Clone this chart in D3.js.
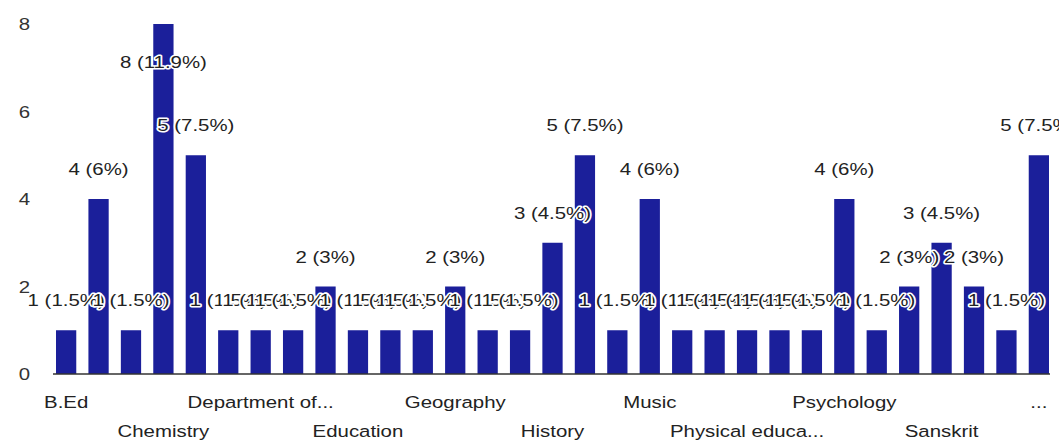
<!DOCTYPE html>
<html><head><meta charset="utf-8">
<script src="https://cdn.jsdelivr.net/npm/d3@7"></script>
<style>
html,body{margin:0;padding:0;background:#fff;}
svg{display:block;font-family:"Liberation Sans",Arial,sans-serif;}
</style></head>
<body>
<svg id="chart" width="1059" height="446"></svg>
<script>
// ---- data ----
const values = [1,4,1,8,5,1,1,1,2,1,1,1,2,1,1,3,5,1,4,1,1,1,1,1,4,1,2,3,2,1,5];
const total = 67;
const tickIndex = [0,3,6,9,12,15,18,21,24,27,30];
const tickLabels = ["B.Ed","Chemistry","Department of...","Education","Geography","History","Music","Physical educa...","Psychology","Sanskrit","..."];
const yTicks = [0,2,4,6,8];

const svg = d3.select("#chart");
const sx = 1.2;

const x = d3.scaleBand().domain(d3.range(values.length)).range([56,1049]).paddingInner(0.375).paddingOuter(0);
const y = d3.scaleLinear().domain([0,8]).range([374,24]);

// y tick labels
svg.append("g").selectAll("text").data(yTicks).join("text")
  .attr("transform", d => `translate(30,${y(d)+6}) scale(${sx},1)`)
  .attr("text-anchor","end").attr("font-size",17).attr("fill","#333").text(d=>d);

// bars
svg.append("g").selectAll("rect").data(values).join("rect")
  .attr("x",(d,i)=>x(i)).attr("width",x.bandwidth())
  .attr("y",d=>y(d)).attr("height",d=>y(0)-y(d))
  .attr("fill","#1b1f9a");

// baseline
svg.append("line").attr("x1",53).attr("x2",1050).attr("y1",y(0)).attr("y2",y(0))
  .attr("stroke","#333").attr("stroke-width",1.5);

// x axis labels
const xa = svg.append("g").attr("transform",`translate(0,${y(0)})`)
  .call(d3.axisBottom(x).tickValues(tickIndex).tickSize(0).tickFormat((d,i)=>tickLabels[i]));
xa.select(".domain").remove();
xa.selectAll("text")
  .attr("font-family","Liberation Sans, Arial, sans-serif")
  .attr("font-size",17).attr("fill","#222")
  .attr("dy",null)
  .attr("y",(d,i)=> i%2===0 ? 34 : 63)
  .attr("transform",`scale(${sx},1)`);

// data labels
const lab = svg.append("g").selectAll("g").data(values).join("g")
  .attr("transform",(d,i)=>{
    const cx = x(i)+x.bandwidth()/2;
    const yy = (y(d)-30 < 40) ? y(d)+44 : y(d)-24;
    return `translate(${cx},${yy})`;
  });
lab.append("text")
  .attr("transform",`scale(${sx},1)`)
  .attr("text-anchor","middle").attr("font-size",17).attr("fill","#222")
  .attr("stroke","#fff").attr("stroke-width",3).attr("paint-order","stroke")
  .attr("stroke-linejoin","round")
  .text(d => `${d} (${d3.format(".3~")(+(d/total*100).toFixed(1))}%)`);
</script>
</body></html>
